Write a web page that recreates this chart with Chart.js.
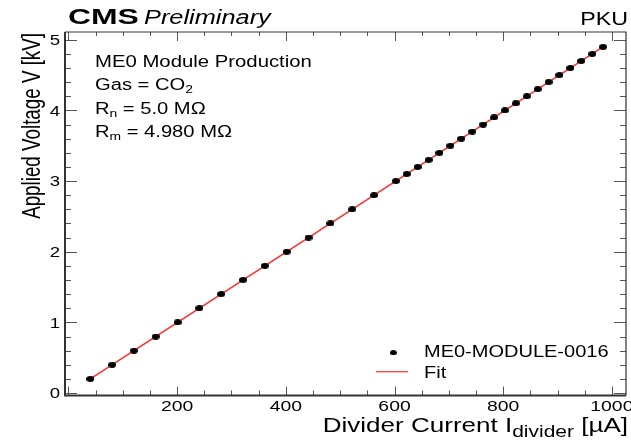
<!DOCTYPE html>
<html>
<head>
<meta charset="utf-8">
<script src="https://cdn.jsdelivr.net/npm/chart.js@4.4.0/dist/chart.umd.min.js"></script>
<style>
  html, body { margin: 0; padding: 0; background: #fff; }
  canvas { display: block; }
</style>
</head>
<body>
<canvas id="hvChart" width="631" height="441"></canvas>
<script>
// measured points: applied voltage [kV] vs divider current [uA]
const voltage = [0.2, 0.4, 0.6, 0.8, 1.0, 1.2, 1.4, 1.6, 1.8, 2.0, 2.2, 2.4, 2.6, 2.8, 3.0,
                 3.1, 3.2, 3.3, 3.4, 3.5, 3.6, 3.7, 3.8, 3.9, 4.0, 4.1, 4.2, 4.3, 4.4, 4.5,
                 4.6, 4.7, 4.8, 4.9];
const current = [40.2, 80.3, 120.5, 160.6, 200.8, 241.0, 281.1, 321.3, 361.4, 401.6, 441.8, 481.9, 522.1, 562.2, 602.4,
                 622.5, 642.6, 662.7, 682.7, 702.8, 722.9, 743.0, 763.1, 783.1, 803.2, 823.3, 843.4, 863.5, 883.5, 903.6,
                 923.7, 943.8, 963.9, 983.9];
// linear fit end points
const fitCurrent = [36, 988];
const fitVoltage = [0.179, 4.920];

const xTickLabels = [200, 400, 600, 800, 1000];
const yTickLabels = [0, 1, 2, 3, 4, 5];

const FONT = '"Liberation Sans", Arial, Helvetica, sans-serif';

// flattened marker, the original canvas was stretched sideways
function makeMarker(w, h) {
    const c = document.createElement('canvas');
    c.width = w; c.height = h;
    const g = c.getContext('2d');
    g.fillStyle = '#000';
    g.beginPath();
    g.ellipse(w / 2, h / 2, w / 2, h / 2, 0, 0, Math.PI * 2);
    g.fill();
    return c;
}
const marker = makeMarker(8, 6);
const legendMarker = makeMarker(7, 5);

// draw text squeezed/stretched horizontally by sx, returns drawn width
function txt(ctx, s, x, y, size, sx, align, style) {
    ctx.save();
    ctx.font = (style || '') + ' ' + size + 'px ' + FONT;
    const w = ctx.measureText(s).width * sx;
    let x0 = x;
    if (align === 'right') x0 = x - w;
    if (align === 'center') x0 = x - w / 2;
    ctx.translate(x0, y);
    ctx.scale(sx, 1);
    ctx.textAlign = 'left';
    ctx.textBaseline = 'alphabetic';
    ctx.fillStyle = '#000';
    ctx.fillText(s, 0, 0);
    ctx.restore();
    return w;
}

// sequence of [text, size, dy] pieces on one baseline
function rich(ctx, parts, x, y, sx, align) {
    let total = 0;
    ctx.save();
    parts.forEach(p => { ctx.font = p[1] + 'px ' + FONT; total += ctx.measureText(p[0]).width * sx; });
    ctx.restore();
    let cx = align === 'right' ? x - total : x;
    parts.forEach(p => { cx += txt(ctx, p[0], cx, y + (p[2] || 0), p[1], sx, 'left'); });
}

const rootFrame = {
    id: 'rootFrame',
    afterDraw(chart) {
        const ctx = chart.ctx;
        const a = chart.chartArea;
        const xs = chart.scales.x, ys = chart.scales.y;

        // ticks (inside, on all four sides)
        ctx.save();
        ctx.strokeStyle = '#555';
        ctx.lineWidth = 1;
        ctx.beginPath();
        for (let v = 0; v <= 1025; v += 50) {
            const px = Math.round(xs.getPixelForValue(v)) + 0.5;
            if (px < a.left || px > a.right) continue;
            const major = v % 200 === 0;
            const lb = major ? 9 : 5, lt = major ? 9 : 4;
            ctx.moveTo(px, a.bottom); ctx.lineTo(px, a.bottom - lb);
            ctx.moveTo(px, a.top); ctx.lineTo(px, a.top + lt);
        }
        for (let i = 0; i <= 25; i++) {
            const v = i * 0.2;
            const py = Math.round(ys.getPixelForValue(v)) + 0.5;
            if (py < a.top || py > a.bottom) continue;
            const major = i % 5 === 0;
            const l = major ? 12 : 6;
            ctx.moveTo(a.left, py); ctx.lineTo(a.left + l, py);
            ctx.moveTo(a.right, py); ctx.lineTo(a.right - l, py);
        }
        ctx.stroke();

        // frame
        ctx.strokeStyle = '#333';
        ctx.lineWidth = 2;
        ctx.beginPath();
        ctx.moveTo(a.left, a.top); ctx.lineTo(a.left, a.bottom); ctx.lineTo(a.right, a.bottom);
        ctx.stroke();
        ctx.lineWidth = 1.2;
        ctx.beginPath();
        ctx.moveTo(a.left, a.top); ctx.lineTo(a.right, a.top); ctx.lineTo(a.right, a.bottom);
        ctx.stroke();
        ctx.restore();

        // tick labels
        xTickLabels.forEach(v => {
            txt(ctx, String(v), xs.getPixelForValue(v), 411, 15.5, 1.25, 'center');
        });
        yTickLabels.forEach(v => {
            txt(ctx, String(v), 60, ys.getPixelForValue(v) + 5.4, 15.5, 1.2, 'right');
        });

        // axis titles
        rich(ctx, [['Divider Current I', 20.5], ['divider', 16.5, 5], [' [\u00b5A]', 20.5]], 628, 432, 1.27, 'right');
        ctx.save();
        ctx.translate(39.5, 33);
        ctx.rotate(-Math.PI / 2);
        ctx.scale(1, 1.38);
        ctx.font = '18.8px ' + FONT;
        ctx.fillStyle = '#000';
        ctx.textAlign = 'right';
        ctx.fillText('Applied Voltage V [kV]', 0, 0);
        ctx.restore();

        // header
        txt(ctx, 'CMS', 68, 24, 22, 1.45, 'left', 'bold');
        txt(ctx, 'Preliminary', 144, 24, 19.5, 1.3, 'left', 'italic');
        txt(ctx, 'PKU', 628, 25, 18.6, 1.25, 'right');

        // info box
        txt(ctx, 'ME0 Module Production', 95, 66.7, 16, 1.27, 'left');
        rich(ctx, [['Gas = CO', 16], ['2', 11, 3]], 95, 90, 1.26, 'left');
        rich(ctx, [['R', 16], ['n', 11, 3], [' = 5.0 M\u03a9', 16]], 95, 114, 1.26, 'left');
        rich(ctx, [['R', 16], ['m', 11, 3], [' = 4.980 M\u03a9', 16]], 95, 137.3, 1.26, 'left');

        // legend
        ctx.drawImage(legendMarker, 393.3 - 3.5, 352.7 - 2.5);
        txt(ctx, 'ME0-MODULE-0016', 424, 356.7, 16, 1.25, 'left');
        ctx.save();
        ctx.strokeStyle = '#ff3b3b';
        ctx.lineWidth = 1.3;
        ctx.beginPath();
        ctx.moveTo(376, 371.7); ctx.lineTo(408, 371.7);
        ctx.stroke();
        ctx.restore();
        txt(ctx, 'Fit', 424, 378.3, 16, 1.25, 'left');
    }
};

const ctx = document.getElementById('hvChart').getContext('2d');
new Chart(ctx, {
    type: 'scatter',
    data: {
        datasets: [{
            label: 'ME0-MODULE-0016',
            data: current.map((c, i) => ({ x: c, y: voltage[i] })),
            pointStyle: marker,
            pointRadius: 4,
            showLine: false,
            order: 0
        }, {
            label: 'Fit',
            type: 'line',
            data: fitCurrent.map((c, i) => ({ x: c, y: fitVoltage[i] })),
            borderColor: '#ff3030',
            borderWidth: 1.6,
            pointRadius: 0,
            showLine: true,
            fill: false,
            order: 1
        }]
    },
    options: {
        responsive: false,
        animation: false,
        layout: { padding: { top: 32, right: 3, left: 0, bottom: 0 } },
        plugins: {
            legend: { display: false },
            tooltip: { enabled: false }
        },
        scales: {
            x: {
                type: 'linear',
                min: -6.4,
                max: 1026,
                grid: { display: false },
                border: { display: false },
                ticks: { display: false },
                afterFit: s => { s.height = 45.5; }
            },
            y: {
                type: 'linear',
                min: -0.035,
                max: 5.11,
                grid: { display: false },
                border: { display: false },
                ticks: { display: false },
                afterFit: s => { s.width = 65; }
            }
        }
    },
    plugins: [rootFrame]
});
</script>
</body>
</html>
